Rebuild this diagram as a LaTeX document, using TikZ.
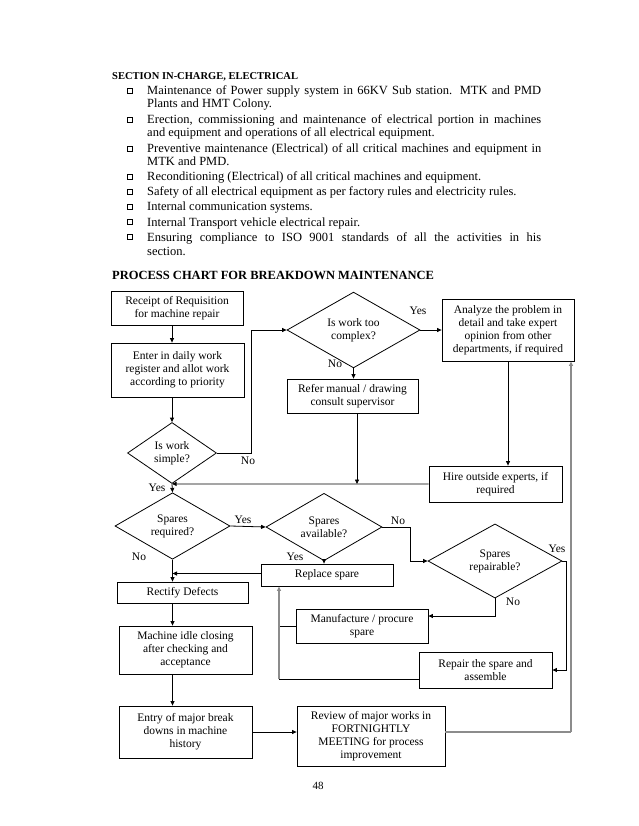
\documentclass[tikz,border=0pt]{standalone}
\usepackage{fontspec}
\setmainfont{Liberation Serif}
\usetikzlibrary{shapes.geometric,arrows.meta,calc}
\newcommand\fcfont{\fontsize{11.5}{13}\selectfont}
\newcommand\bodyfont{\fontsize{12.5}{15}\selectfont}
\begin{document}
\begin{tikzpicture}[x=1pt,y=-1pt,
  box/.style={draw, line width=0.8pt, rectangle, align=center, inner sep=1pt, font=\fcfont},
  dia/.style={draw, line width=0.8pt, diamond, align=center, inner sep=0pt, font=\fcfont},
  arr/.style={line width=0.8pt, -{Triangle[length=4.5pt,width=4pt]}},
  ln/.style={line width=0.8pt},
  gry/.style={draw=black!45, line width=1.1pt},
  lbl/.style={font=\fcfont, inner sep=0pt},
  body/.style={anchor=base west, inner sep=0pt, font=\bodyfont}]
\fill[white] (0,0) rectangle (638,826);
\useasboundingbox (0,0) rectangle (638,826);

% ---------- text part ----------
\node[anchor=base west, inner sep=0pt, font=\fontsize{10.5}{12}\selectfont\bfseries] (sec) at (112,80) {SECTION IN-CHARGE, ELECTRICAL};
\foreach \y in {91,120,149,177,192,207,222,237} {
  \fill (128.8,\y-1.3) rectangle (133.3,\y+3.2);
  \filldraw[fill=white,line width=0.5pt] (127.5,\y-2.5) rectangle (132,\y+2);
}
\node[body] (t1) at (147,95) {\makebox[394pt][s]{Maintenance of Power supply system in 66KV Sub station. MTK and PMD}};
\node[body] (t2) at (147,108) {Plants and HMT Colony.};
\node[body] (t3) at (147,124) {\makebox[394pt][s]{Erection, commissioning and maintenance of electrical portion in machines}};
\node[body] (t4) at (147,137) {and equipment and operations of all electrical equipment.};
\node[body] (t5) at (147,153) {\makebox[394pt][s]{Preventive maintenance (Electrical) of all critical machines and equipment in}};
\node[body] (t6) at (147,166) {MTK and PMD.};
\node[body] (t7) at (147,181) {Reconditioning (Electrical) of all critical machines and equipment.};
\node[body] (t8) at (147,196) {Safety of all electrical equipment as per factory rules and electricity rules.};
\node[body] (t9) at (147,211) {Internal communication systems.};
\node[body] (t10) at (147,226) {Internal Transport vehicle electrical repair.};
\node[body] (t11) at (147,241) {\makebox[394pt][s]{Ensuring compliance to ISO 9001 standards of all the activities in his}};
\node[body] (t12) at (147,255) {section.};

\node[anchor=base west, inner sep=0pt, font=\fontsize{12.5}{15}\selectfont\bfseries] (pc) at (112,279.5) {PROCESS CHART FOR BREAKDOWN MAINTENANCE};

% ---------- flowchart nodes ----------
\node[box, minimum width=132pt, minimum height=34pt] (receipt) at (177,308) {Receipt of Requisition\\for machine repair};
\node[box, minimum width=133pt, minimum height=54pt] (enter) at (177.5,370) {Enter in daily work\\register and allot work\\according to priority};
\node[dia, minimum width=89pt, minimum height=61pt] (simple) at (172,453) {Is work\\simple?};
\node[dia, minimum width=133pt, minimum height=61pt] (complex) at (353.5,330) {Is work too\\complex?};
\node[box, minimum width=132pt, minimum height=62pt] (analyze) at (508,330) {Analyze the problem in\\detail and take expert\\opinion from other\\departments, if required};
\node[box, minimum width=131pt, minimum height=34pt] (refer) at (352.5,396) {Refer manual / drawing\\consult supervisor};
\node[box, minimum width=133pt, minimum height=36pt] (hire) at (495.5,484) {Hire outside experts, if\\required};
\node[dia, minimum width=115pt, minimum height=62pt] (required) at (172.5,526) {Spares\\required?};
\node[dia, minimum width=116pt, minimum height=61pt] (available) at (324,527) {Spares\\available?};
\node[box, minimum width=132pt, minimum height=22pt] (replace) at (327,575) {Replace spare};
\node[dia, minimum width=134pt, minimum height=61pt] (repairable) at (495,561) {Spares\\repairable?};
\node[box, minimum width=131pt, minimum height=21pt] (rectify) at (182.5,592.5) {Rectify Defects};
\node[box, minimum width=132pt, minimum height=34pt] (manufacture) at (362,626) {Manufacture / procure\\spare};
\node[box, minimum width=133pt, minimum height=48pt] (machine) at (185.5,650) {Machine idle closing\\after checking and\\acceptance};
\node[box, minimum width=133pt, minimum height=36pt] (repair) at (485.5,670) {Repair the spare and\\assemble};
\node[box, minimum width=133pt, minimum height=52pt] (entry) at (185.5,732) {Entry of major break\\downs in machine\\history};
\node[box, minimum width=148pt, minimum height=60pt] (review) at (371,736) {Review of major works in\\FORTNIGHTLY\\MEETING for process\\improvement};

% ---------- coordinates ----------
\coordinate (c1) at (251,453);
\coordinate (c2) at (410,527);
\coordinate (c3) at (566,561);
\coordinate (v1) at (279,679);
\coordinate (g1) at (571,732);

% ---------- connectors ----------
\draw[arr] (simple |- receipt.south) -- (simple |- enter.north);
\draw[arr] (simple |- enter.south) -- (simple.north);
\draw[arr] (simple.east) -- (c1) |- (complex.west);
\draw[arr] (complex.east) -- (analyze.west);
\draw[arr] (complex.south) -- (complex.south |- refer.north);
\draw[arr] (analyze.south) -- (analyze.south |- hire.north);
\draw[arr] (hire.west) -- (simple.south);
\draw[arr] ([xshift=4.5pt]refer.south) -- ([xshift=4.5pt]refer.south |- hire.west);
\draw[arr] (simple.south) -- (required.north);
\draw[arr] (required.east) -- (available.west);
\draw[arr] (available.east) -- (c2) |- (repairable.west);
\draw[arr] (available.south) -- (available.south |- replace.north);
\draw[arr] ([yshift=1.5pt]replace.west) -- ([yshift=1.5pt]replace.west -| required.south);
\draw[arr] (required.south) -- (required.south |- rectify.north);
\draw[arr] (required.south |- rectify.south) -- (required.south |- machine.north);
\draw[arr] (required.south |- machine.south) -- (required.south |- entry.north);
\draw[arr] (entry.east) -- (entry.east -| review.west);
\draw[arr] (repairable.east) -- (c3) |- (repair.east);
\draw[arr] (repairable.south) |- ([yshift=10pt]manufacture.east);
\draw[ln] (manufacture.west) -- (manufacture.west -| v1);
\draw[ln] ([yshift=-9pt]repair.west) -- (v1);
\draw[gry, -{Triangle[length=4.5pt,width=4pt]}] (v1) -- (v1 |- replace.south);
\draw[gry] (entry.east -| review.east) -- (g1);
\draw[gry, -{Triangle[length=4.5pt,width=4pt]}] (g1) -- (g1 |- analyze.south);

% ---------- labels ----------
\node[lbl] (l1) at (248,461) {No};
\node[lbl] (l2) at (418,311) {Yes};
\node[lbl] (l3) at (335,364) {No};
\node[lbl] (l4) at (157,488) {Yes};
\node[lbl] (l5) at (243,520) {Yes};
\node[lbl] (l6) at (398,521) {No};
\node[lbl] (l7) at (295,557) {Yes};
\node[lbl] (l8) at (139,557) {No};
\node[lbl] (l9) at (557,549) {Yes};
\node[lbl] (l10) at (513,602) {No};

\node[font=\fontsize{11}{13}\selectfont, inner sep=0pt] (pg) at (318,786) {48};
\end{tikzpicture}
\end{document}
